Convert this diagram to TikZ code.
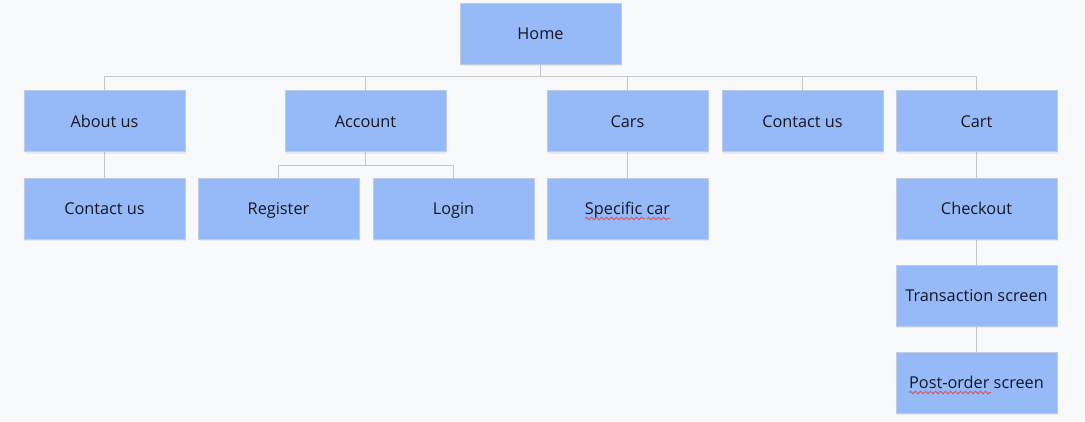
\documentclass[tikz,border=0pt]{standalone}
\usepackage{fontspec}
\setmainfont{Open Sans}
\usetikzlibrary{shadows,decorations.pathmorphing}
\definecolor{bgc}{HTML}{F8F9FB}
\definecolor{boxfill}{HTML}{96BAF8}
\definecolor{boxline}{HTML}{BFCBE3}
\definecolor{linkc}{HTML}{C6C6C8}
\definecolor{textc}{HTML}{161624}
\definecolor{spellc}{HTML}{D9525E}
\tikzset{
  page/.style={x=1pt,y=-1pt},
  pagebox/.style={draw=boxline, line width=0.6pt, fill=boxfill,
    minimum width=161pt, minimum height=61pt, inner sep=0pt,
    text height=14pt, text depth=2pt,
    text=textc, font=\fontsize{16.3}{19}\selectfont,
    drop shadow={opacity=0.12, shadow xshift=1pt, shadow yshift=-2pt}},
  link/.style={draw=linkc, line width=0.9pt},
  spell/.style={draw=spellc, line width=0.9pt,
    decorate, decoration={snake, segment length=5pt, amplitude=1.3pt}}
}
\begin{document}
\begin{tikzpicture}[page]
\fill[bgc] (0,0) rectangle (1085,421);
\useasboundingbox (0,0) rectangle (1085,421);

% connectors first, so boxes sit on top
\coordinate (bus) at (540.5,76);
\coordinate (accbus) at (365.5,165);
\draw[link] (540.5,64) -- (bus);
\draw[link] (104.5,76) -- (976.5,76);
\foreach \x in {104.5,365.5,627.5,802.5,976.5} \draw[link] (\x,76) -- (\x,91);
\draw[link] (104.5,151) -- (104.5,178);
\draw[link] (365.5,151) -- (accbus);
\draw[link] (278.5,178) -- (278.5,165) -- (453.5,165) -- (453.5,178);
\draw[link] (627.5,151) -- (627.5,178);
\draw[link] (976.5,151) -- (976.5,178);
\draw[link] (976.5,239) -- (976.5,265);
\draw[link] (976.5,326) -- (976.5,352);

% pages
\node[pagebox] (home) at (540.5,33.5) {Home};
\node[pagebox] (about) at (104.5,121) {About us};
\node[pagebox] (account) at (365.5,121) {Account};
\node[pagebox] (cars) at (627.5,121) {Cars};
\node[pagebox] (contact) at (802.5,121) {Contact us};
\node[pagebox] (cart) at (976.5,121) {Cart};
\node[pagebox] (contact2) at (104.5,208.5) {Contact us};
\node[pagebox] (register) at (278.5,208.5) {Register};
\node[pagebox] (login) at (453.5,208.5) {Login};
\node[pagebox] (specific) at (627.5,208.5) {Specific car};
\node[pagebox] (checkout) at (976.5,208.5) {Checkout};
\node[pagebox] (transaction) at (976.5,295.5) {Transaction screen};
\node[pagebox] (postorder) at (976.5,382.5) {Post-order screen};

% spell-check squiggles
\draw[spell] (585,218.5) -- (645,218.5);
\draw[spell] (647,218.5) -- (670,218.5);
\draw[spell] (909,392.5) -- (991,392.5);
\end{tikzpicture}
\end{document}
